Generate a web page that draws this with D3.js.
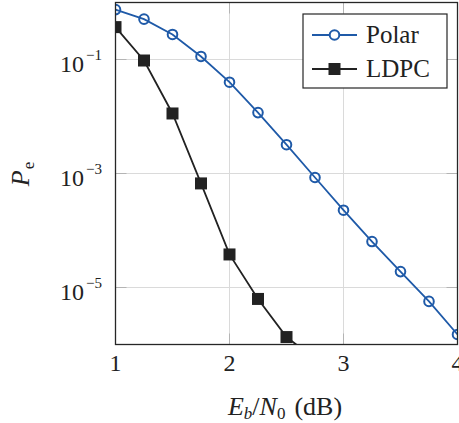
<!DOCTYPE html>
<html>
<head>
<meta charset="utf-8">
<script src="https://cdn.jsdelivr.net/npm/d3@7"></script>
<style>
  html, body { margin: 0; padding: 0; background: #fff; }
  svg { display: block; }
  text { font-family: "Liberation Serif", "DejaVu Serif", serif; fill: #222; }
</style>
</head>
<body>
<svg id="chart" width="459" height="423"></svg>
<script>
// Eb/N0 points (dB)
const polarSnr = [1, 1.25, 1.5, 1.75, 2, 2.25, 2.5, 2.75, 3, 3.25, 3.5, 3.75, 4];
const polarPe  = [0.75, 0.51, 0.275, 0.113, 0.040, 0.0117, 0.0032, 8.5e-4, 2.27e-4, 6.4e-5, 1.9e-5, 5.7e-6, 1.5e-6];
const ldpcSnr  = [1, 1.25, 1.5, 1.75, 2, 2.25, 2.5, 2.75];
const ldpcPe   = [0.37, 0.096, 0.0113, 6.7e-4, 3.8e-5, 6.3e-6, 1.35e-6, 5.6e-7];
const xTicks = [1, 2, 3, 4];
const yTicks = [1e-1, 1e-3, 1e-5];
const yTickExp = ["\u22121", "\u22123", "\u22125"];
const seriesNames = ["Polar", "LDPC"];

const svg = d3.select("#chart");
const pLeft = 115.5, pRight = 457.5, pTop = 2.5, pBottom = 344.5;
const x = d3.scaleLinear().domain([1, 4]).range([pLeft, pRight]);
const y = d3.scaleLog().domain([1e-6, 1]).range([pBottom, pTop]);

const blue = "#1f5aa8", dark = "#222222";

// grid
svg.append("g").selectAll("line").data(xTicks.slice(1, -1)).join("line")
  .attr("x1", d => x(d)).attr("x2", d => x(d)).attr("y1", pTop).attr("y2", pBottom)
  .attr("stroke", "#dadada").attr("stroke-width", 1);
svg.append("g").selectAll("line").data(yTicks).join("line")
  .attr("x1", pLeft).attr("x2", pRight).attr("y1", d => y(d)).attr("y2", d => y(d))
  .attr("stroke", "#dadada").attr("stroke-width", 1);

// tick marks (inward, both sides)
const tl = 11;
const ticks = svg.append("g").attr("stroke", "#b4b4b4").attr("stroke-width", 1);
xTicks.slice(1, -1).forEach(d => {
  ticks.append("line").attr("x1", x(d)).attr("x2", x(d)).attr("y1", pBottom).attr("y2", pBottom - tl);
  ticks.append("line").attr("x1", x(d)).attr("x2", x(d)).attr("y1", pTop).attr("y2", pTop + tl);
});
yTicks.forEach(d => {
  ticks.append("line").attr("x1", pLeft).attr("x2", pLeft + tl).attr("y1", y(d)).attr("y2", y(d));
  ticks.append("line").attr("x1", pRight).attr("x2", pRight - tl).attr("y1", y(d)).attr("y2", y(d));
});

// clipping region for data
svg.append("clipPath").attr("id", "plotClip").append("rect")
  .attr("x", pLeft).attr("y", pTop).attr("width", pRight - pLeft).attr("height", pBottom - pTop);
const plot = svg.append("g").attr("clip-path", "url(#plotClip)");

const line = d3.line().x(d => x(d[0])).y(d => y(d[1]));
const polar = polarSnr.map((s, i) => [s, polarPe[i]]);
const ldpc = ldpcSnr.map((s, i) => [s, ldpcPe[i]]);

plot.append("path").datum(ldpc).attr("d", line)
  .attr("fill", "none").attr("stroke", dark).attr("stroke-width", 1.8);
plot.append("g").selectAll("rect").data(ldpc).join("rect")
  .attr("x", d => x(d[0]) - 6).attr("y", d => y(d[1]) - 6)
  .attr("width", 12).attr("height", 12).attr("fill", dark);

plot.append("path").datum(polar).attr("d", line)
  .attr("fill", "none").attr("stroke", blue).attr("stroke-width", 1.8);
plot.append("g").selectAll("circle").data(polar).join("circle")
  .attr("cx", d => x(d[0])).attr("cy", d => y(d[1])).attr("r", 4.8)
  .attr("fill", "none").attr("stroke", blue).attr("stroke-width", 2);

// frame
svg.append("rect").attr("x", pLeft).attr("y", pTop).attr("width", pRight - pLeft).attr("height", pBottom - pTop)
  .attr("fill", "none").attr("stroke", "#262626").attr("stroke-width", 1.3);

// x tick labels
svg.append("g").selectAll("text").data(xTicks).join("text")
  .attr("x", d => x(d)).attr("y", 371).attr("text-anchor", "middle")
  .attr("font-size", 24).text(d => d);

// y tick labels 10^k
const yl = svg.append("g").selectAll("text").data(yTicks).join("text")
  .attr("x", 102).attr("y", d => y(d) + 12).attr("text-anchor", "end").attr("font-size", 24);
yl.append("tspan").text("10");
yl.append("tspan").attr("dx", 2).attr("dy", -12).attr("font-size", 15).text((d, i) => yTickExp[i]);

// y axis title
const yt = svg.append("text").attr("transform", "translate(29,174) rotate(-90)")
  .attr("text-anchor", "middle").attr("font-size", 26);
yt.append("tspan").attr("font-style", "italic").text("P");
yt.append("tspan").attr("dx", 1).attr("dy", 5).attr("font-size", 17).text("e");

// x axis title
const xt = svg.append("text").attr("x", 285).attr("y", 415).attr("text-anchor", "middle").attr("font-size", 26);
xt.append("tspan").attr("font-style", "italic").text("E");
xt.append("tspan").attr("font-style", "italic").attr("font-size", 17).attr("dy", 4).text("b");
xt.append("tspan").attr("dy", -4).text("/");
xt.append("tspan").attr("font-style", "italic").text("N");
xt.append("tspan").attr("font-size", 17).attr("dy", 4).text("0");
xt.append("tspan").attr("dx", 9).attr("dy", -4).text("(dB)");

// legend
const lg = svg.append("g");
lg.append("rect").attr("x", 303).attr("y", 14).attr("width", 144).attr("height", 74)
  .attr("fill", "#fff").attr("stroke", "#262626").attr("stroke-width", 1.2);
const ly = [35, 69];
lg.append("line").attr("x1", 312).attr("x2", 357).attr("y1", ly[0]).attr("y2", ly[0])
  .attr("stroke", blue).attr("stroke-width", 1.8);
lg.append("circle").attr("cx", 334.5).attr("cy", ly[0]).attr("r", 4.8)
  .attr("fill", "#fff").attr("stroke", blue).attr("stroke-width", 2);
lg.append("line").attr("x1", 312).attr("x2", 357).attr("y1", ly[1]).attr("y2", ly[1])
  .attr("stroke", dark).attr("stroke-width", 1.8);
lg.append("rect").attr("x", 328.5).attr("y", ly[1] - 6).attr("width", 12).attr("height", 12).attr("fill", dark);
lg.selectAll("text.lab").data(seriesNames).join("text")
  .attr("x", 366).attr("y", (d, i) => ly[i] + 7.5).attr("font-size", 25).text(d => d);
</script>
</body>
</html>
